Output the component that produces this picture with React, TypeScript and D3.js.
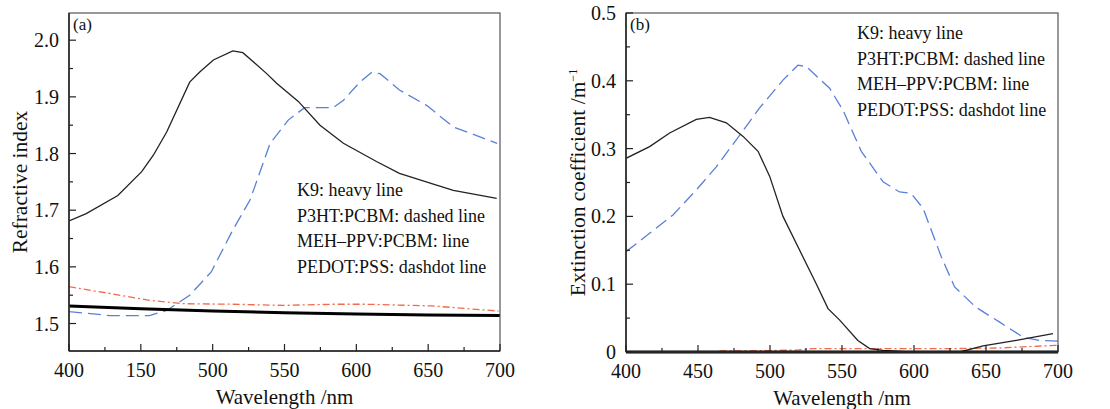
import React from "react";
import * as d3 from "d3";

// ---------- Panel (a): refractive index ----------
const aK9: [number, number][] = [[400,1.531],[450,1.526],[500,1.522],[550,1.519],[600,1.517],[650,1.515],[700,1.514]];
const aMEH: [number, number][] = [[400,1.681],[412,1.694],[434,1.726],[450.6,1.768],[458.7,1.797],[468,1.838],[484,1.926],[491,1.944],[500.5,1.965],[514,1.981],[521,1.978],[537.6,1.941],[544.5,1.924],[559.6,1.892],[574.7,1.85],[591,1.818],[614,1.786],[630,1.765],[652.5,1.747],[667.5,1.735],[697.7,1.721]];
const aP3HT: [number, number][] = [[400,1.521],[428.5,1.514],[456,1.514],[468,1.523],[484,1.55],[499,1.591],[514,1.665],[526,1.718],[540,1.818],[552.6,1.859],[564,1.881],[584,1.881],[591,1.894],[602.5,1.926],[610.6,1.943],[616.5,1.941],[630,1.912],[648.9,1.885],[667.5,1.847],[698,1.818]];
const aPEDOT: [number, number][] = [[400,1.565],[428.5,1.553],[456,1.541],[479.6,1.535],[514,1.534],[549,1.532],[584,1.534],[607,1.534],[653,1.531],[699,1.522]];

// ---------- Panel (b): extinction coefficient ----------
const bK9: [number, number][] = [[400,0],[700,0]];
const bMEH: [number, number][] = [[400,0.2857],[416.4,0.303],[430.3,0.323],[448.8,0.343],[458,0.346],[469.7,0.338],[481.3,0.318],[491.7,0.296],[499.8,0.259],[509,0.2],[520.6,0.15],[532,0.101],[540.3,0.064],[548.4,0.047],[561,0.017],[569.2,0.005],[578.5,0.0025],[597,0],[631.7,0],[648,0.009],[671,0.017],[696.5,0.027]];
const bP3HT: [number, number][] = [[400,0.148],[416.4,0.175],[432.6,0.202],[448.8,0.239],[462.7,0.273],[476.6,0.313],[492.8,0.36],[509,0.401],[519.4,0.423],[525.2,0.421],[541.4,0.389],[550.6,0.357],[563.4,0.296],[578.5,0.251],[590,0.236],[598,0.234],[606.3,0.212],[619,0.14],[628.2,0.096],[643,0.066],[659.5,0.044],[675.7,0.022],[687,0.017],[700,0.016]];
const bPEDOT: [number, number][] = [[465,0.0015],[500,0.002],[520,0.003],[530,0.005],[578,0.005],[625,0.005],[660,0.006],[700,0.01]];

const xTicks = [400, 450, 500, 550, 600, 650, 700];
const xLabelsA = ["400", "150", "500", "550", "600", "650", "700"];
const xLabelsB = ["400", "450", "500", "550", "600", "650", "700"];
const yTicksA = [1.5, 1.6, 1.7, 1.8, 1.9, 2.0];
const yLabelsA = ["1.5", "1.6", "1.7", "1.8", "1.9", "2.0"];
const yTicksB = [0, 0.1, 0.2, 0.3, 0.4, 0.5];
const yLabelsB = ["0", "0.1", "0.2", "0.3", "0.4", "0.5"];
const legendLines = ["K9: heavy line", "P3HT:PCBM: dashed line", "MEH\u2013PPV:PCBM: line", "PEDOT:PSS: dashdot line"];

const FONT = "'Liberation Serif', 'Times New Roman', serif";

type PanelProps = {
  left: number; right: number; top: number; bottom: number;
  yDomain: [number, number];
  yTicks: number[]; yLabels: string[]; yMinor: number[];
  xLabels: string[];
  k9: [number, number][]; meh: [number, number][]; p3ht: [number, number][]; pedot: [number, number][];
  tag: string; ylabel: React.ReactNode; ylabelX: number;
  legendX: number; legendY: number;
};

function Panel(p: PanelProps) {
  const x = d3.scaleLinear().domain([400, 700]).range([p.left, p.right]);
  const y = d3.scaleLinear().domain(p.yDomain).range([p.bottom, p.top]);
  const line = d3.line<[number, number]>().x(d => x(d[0])).y(d => y(d[1]));
  const xMinor = d3.range(425, 700, 50);
  const clipId = "clip" + p.tag;
  return (
    <g>
      <defs>
        <clipPath id={clipId}>
          <rect x={p.left} y={p.top - 2} width={p.right - p.left} height={p.bottom - p.top + 4} />
        </clipPath>
      </defs>
      <g clipPath={`url(#${clipId})`} fill="none">
        <path d={line(p.pedot) || ""} stroke="#f4694a" strokeWidth={1.3} strokeDasharray="7,3,2,3" />
        <path d={line(p.p3ht) || ""} stroke="#5b7fd8" strokeWidth={1.3} strokeDasharray="13,6" />
        <path d={line(p.meh) || ""} stroke="#222" strokeWidth={1.3} />
        <path d={line(p.k9) || ""} stroke="#000" strokeWidth={3} />
      </g>
      <rect x={p.left} y={p.top} width={p.right - p.left} height={p.bottom - p.top} fill="none" stroke="#555" strokeWidth={1.2} />
      <line x1={p.left} x2={p.left} y1={p.top} y2={p.bottom} stroke="#222" strokeWidth={1.5} />
      <line x1={p.left} x2={p.right} y1={p.bottom} y2={p.bottom} stroke="#222" strokeWidth={1.5} />
      {xTicks.map((t, i) => (
        <g key={"xt" + i}>
          <line x1={x(t)} x2={x(t)} y1={p.bottom} y2={p.bottom - 7} stroke="#222" strokeWidth={1.2} />
          <text x={x(t)} y={p.bottom + 26} textAnchor="middle" fontSize={20} fontFamily={FONT} fill="#111">{p.xLabels[i]}</text>
        </g>
      ))}
      {xMinor.map((t, i) => (
        <line key={"xm" + i} x1={x(t)} x2={x(t)} y1={p.bottom} y2={p.bottom - 4} stroke="#222" strokeWidth={1.2} />
      ))}
      {p.yTicks.map((t, i) => (
        <g key={"yt" + i}>
          <line x1={p.left} x2={p.left + 7} y1={y(t)} y2={y(t)} stroke="#222" strokeWidth={1.2} />
          <text x={p.left - 10} y={y(t) + 7} textAnchor="end" fontSize={20} fontFamily={FONT} fill="#111">{p.yLabels[i]}</text>
        </g>
      ))}
      {p.yMinor.map((t, i) => (
        <line key={"ym" + i} x1={p.left} x2={p.left + 4} y1={y(t)} y2={y(t)} stroke="#222" strokeWidth={1.2} />
      ))}
      <text x={p.left + 4} y={p.top + 17} fontSize={17} fontFamily={FONT} fill="#111">({p.tag})</text>
      <text x={(p.left + p.right) / 2} y={p.bottom + 53} textAnchor="middle" fontSize={21} fontFamily={FONT} fill="#111">Wavelength /nm</text>
      <text transform={`translate(${p.ylabelX},${(p.top + p.bottom) / 2}) rotate(-90)`} textAnchor="middle" fontSize={21.5} fontFamily={FONT} fill="#111">{p.ylabel}</text>
      {legendLines.map((s, i) => (
        <text key={"lg" + i} x={p.legendX} y={p.legendY + i * 25.7} fontSize={18} fontFamily={FONT} fill="#111">{s}</text>
      ))}
    </g>
  );
}

export default function App() {
  return (
    <svg width={1110} height={409} style={{ position: "absolute", left: 0, top: 0, background: "#fff" }}>
      <rect width={1110} height={409} fill="#fff" />
      <Panel left={69} right={500} top={13} bottom={351}
        yDomain={[1.4515, 2.048]} yTicks={yTicksA} yLabels={yLabelsA}
        yMinor={[1.55, 1.65, 1.75, 1.85, 1.95]} xLabels={xLabelsA}
        k9={aK9} meh={aMEH} p3ht={aP3HT} pedot={aPEDOT}
        tag="a" ylabel="Refractive index" ylabelX={27}
        legendX={297} legendY={196} />
      <Panel left={626} right={1058} top={13} bottom={352}
        yDomain={[0, 0.5]} yTicks={yTicksB} yLabels={yLabelsB}
        yMinor={[0.05, 0.15, 0.25, 0.35, 0.45]} xLabels={xLabelsB}
        k9={bK9} meh={bMEH} p3ht={bP3HT} pedot={bPEDOT}
        tag="b" ylabel={<>Extinction coefficient /m<tspan dy={-8} fontSize={12}>{"\u22121"}</tspan></>} ylabelX={585}
        legendX={857} legendY={39} />
    </svg>
  );
}
